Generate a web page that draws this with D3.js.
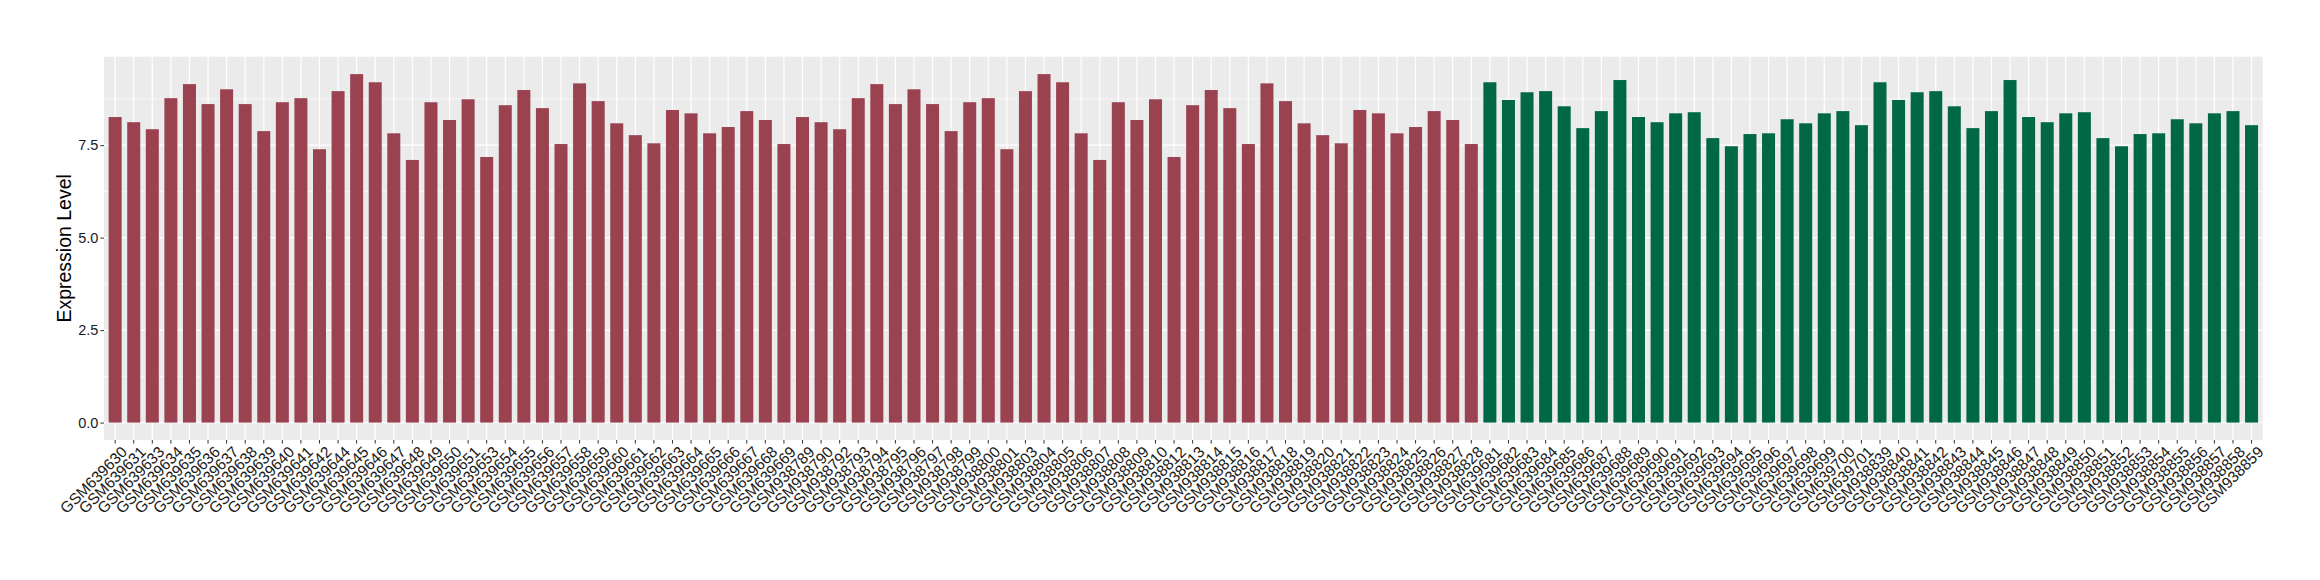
<!DOCTYPE html>
<html>
<head>
<meta charset="utf-8">
<script src="https://cdn.jsdelivr.net/npm/d3@7"></script>
<style>
  body { margin: 0; background: #fff; }
  svg { display: block; }
</style>
</head>
<body>
<div id="chart"></div>
<script>
// DATA
var samplesA639 = ["GSM639630", "GSM639631", "GSM639633", "GSM639634", "GSM639635", "GSM639636", "GSM639637", "GSM639638", "GSM639639", "GSM639640", "GSM639641", "GSM639642", "GSM639644", "GSM639645", "GSM639646", "GSM639647", "GSM639648", "GSM639649", "GSM639650", "GSM639651", "GSM639653", "GSM639654", "GSM639655", "GSM639656", "GSM639657", "GSM639658", "GSM639659", "GSM639660", "GSM639661", "GSM639662", "GSM639663", "GSM639664", "GSM639665", "GSM639666", "GSM639667", "GSM639668", "GSM639669"];
var valuesA639 = [8.26, 8.12, 7.93, 8.77, 9.15, 8.61, 9.01, 8.61, 7.88, 8.66, 8.77, 7.39, 8.96, 9.42, 9.20, 7.82, 7.10, 8.66, 8.18, 8.74, 7.18, 8.58, 8.99, 8.50, 7.53, 9.17, 8.69, 8.09, 7.77, 7.55, 8.45, 8.36, 7.82, 7.99, 8.42, 8.18, 7.53];

var samplesA938 = ["GSM938789", "GSM938790", "GSM938792", "GSM938793", "GSM938794", "GSM938795", "GSM938796", "GSM938797", "GSM938798", "GSM938799", "GSM938800", "GSM938801", "GSM938803", "GSM938804", "GSM938805", "GSM938806", "GSM938807", "GSM938808", "GSM938809", "GSM938810", "GSM938812", "GSM938813", "GSM938814", "GSM938815", "GSM938816", "GSM938817", "GSM938818", "GSM938819", "GSM938820", "GSM938821", "GSM938822", "GSM938823", "GSM938824", "GSM938825", "GSM938826", "GSM938827", "GSM938828"];
var valuesA938 = [8.26, 8.12, 7.93, 8.77, 9.15, 8.61, 9.01, 8.61, 7.88, 8.66, 8.77, 7.39, 8.96, 9.42, 9.20, 7.82, 7.10, 8.66, 8.18, 8.74, 7.18, 8.58, 8.99, 8.50, 7.53, 9.17, 8.69, 8.09, 7.77, 7.55, 8.45, 8.36, 7.82, 7.99, 8.42, 8.18, 7.53];

var samplesB639 = ["GSM639681", "GSM639682", "GSM639683", "GSM639684", "GSM639685", "GSM639686", "GSM639687", "GSM639688", "GSM639689", "GSM639690", "GSM639691", "GSM639692", "GSM639693", "GSM639694", "GSM639695", "GSM639696", "GSM639697", "GSM639698", "GSM639699", "GSM639700", "GSM639701"];
var valuesB639 = [9.20, 8.72, 8.93, 8.96, 8.55, 7.96, 8.42, 9.26, 8.26, 8.12, 8.36, 8.39, 7.69, 7.47, 7.80, 7.82, 8.20, 8.09, 8.36, 8.42, 8.04];

var samplesB938 = ["GSM938839", "GSM938840", "GSM938841", "GSM938842", "GSM938843", "GSM938844", "GSM938845", "GSM938846", "GSM938847", "GSM938848", "GSM938849", "GSM938850", "GSM938851", "GSM938852", "GSM938853", "GSM938854", "GSM938855", "GSM938856", "GSM938857", "GSM938858", "GSM938859"];
var valuesB938 = [9.20, 8.72, 8.93, 8.96, 8.55, 7.96, 8.42, 9.26, 8.26, 8.12, 8.36, 8.39, 7.69, 7.47, 7.80, 7.82, 8.20, 8.09, 8.36, 8.42, 8.04];

var yTicks = [0, 2.5, 5, 7.5];
var yMinor = [1.25, 3.75, 6.25, 8.75];
var groupColours = {A: "#9A4250", B: "#006846"};

// build rows in axis order
var data = [];
function addRows(names, vals, group) {
  names.forEach(function(n, i) { data.push({sample: n, value: vals[i], group: group}); });
}
addRows(samplesA639, valuesA639, "A");
addRows(samplesA938, valuesA938, "A");
addRows(samplesB639, valuesB639, "B");
addRows(samplesB938, valuesB938, "B");

// SVG AND D3 STUFF
var width = 2320, height = 580;
var panel = {left: 104, right: 2262.7, top: 56.7, bottom: 440};

var svg = d3.select("#chart")
  .append("svg")
  .attr("width", width)
  .attr("height", height);

var yMax = d3.max(data, function(d) { return d.value; });
var pad = yMax * 0.05;

var xScale = d3.scaleBand()
  .domain(data.map(function(d) { return d.sample; }))
  .range([panel.left, panel.right])
  .paddingInner(0.3)
  .paddingOuter(0.25);

var yScale = d3.scaleLinear()
  .domain([-pad, yMax + pad])
  .range([panel.bottom, panel.top]);

// panel background
svg.append("rect")
  .attr("x", panel.left)
  .attr("y", panel.top)
  .attr("width", panel.right - panel.left)
  .attr("height", panel.bottom - panel.top)
  .attr("fill", "#EBEBEB");

var grid = svg.append("g");
grid.selectAll("line.minor")
  .data(yMinor)
  .enter()
  .append("line")
  .attr("x1", panel.left).attr("x2", panel.right)
  .attr("y1", function(d) { return yScale(d); })
  .attr("y2", function(d) { return yScale(d); })
  .attr("stroke", "#fff")
  .attr("stroke-width", 0.6);

grid.selectAll("line.major")
  .data(yTicks)
  .enter()
  .append("line")
  .attr("x1", panel.left).attr("x2", panel.right)
  .attr("y1", function(d) { return yScale(d); })
  .attr("y2", function(d) { return yScale(d); })
  .attr("stroke", "#fff")
  .attr("stroke-width", 1.2);

grid.selectAll("line.vert")
  .data(xScale.domain())
  .enter()
  .append("line")
  .attr("x1", function(d) { return xScale(d) + xScale.bandwidth() / 2; })
  .attr("x2", function(d) { return xScale(d) + xScale.bandwidth() / 2; })
  .attr("y1", panel.top).attr("y2", panel.bottom)
  .attr("stroke", "#fff")
  .attr("stroke-width", 1.2);

// bars
svg.append("g")
  .selectAll("rect")
  .data(data)
  .enter()
  .append("rect")
  .attr("x", function(d) { return xScale(d.sample); })
  .attr("width", xScale.bandwidth())
  .attr("y", function(d) { return yScale(d.value); })
  .attr("height", function(d) { return yScale(0) - yScale(d.value); })
  .attr("fill", function(d) { return groupColours[d.group]; });

// x axis
var xAxis = svg.append("g")
  .attr("transform", "translate(0," + panel.bottom + ")")
  .call(d3.axisBottom(xScale).tickSize(3.6).tickPadding(6));
xAxis.select(".domain").remove();
xAxis.selectAll(".tick line").attr("stroke", "#333");
xAxis.selectAll(".tick text")
  .attr("font-family", "Liberation Sans, Arial, sans-serif")
  .attr("font-size", 15.5)
  .attr("fill", "#1A1A1A")
  .attr("text-anchor", "end")
  .attr("x", 0)
  .attr("y", 6)
  .attr("dy", "0.8em")
  .attr("transform", "rotate(-45)");

// y axis
var yAxis = svg.append("g")
  .attr("transform", "translate(" + panel.left + ",0)")
  .call(d3.axisLeft(yScale).tickValues(yTicks).tickFormat(d3.format(".1f")).tickSize(3.6).tickPadding(2));
yAxis.select(".domain").remove();
yAxis.selectAll(".tick line").attr("stroke", "#333");
yAxis.selectAll(".tick text")
  .attr("font-family", "Liberation Sans, Arial, sans-serif")
  .attr("font-size", 14.5)
  .attr("fill", "#1A1A1A");

// y label
svg.append("text")
  .attr("transform", "translate(71," + ((panel.top + panel.bottom) / 2) + ")rotate(-90)")
  .attr("text-anchor", "middle")
  .attr("font-family", "Liberation Sans, Arial, sans-serif")
  .attr("font-size", 19.5)
  .attr("fill", "#000")
  .text("Expression Level");
</script>
</body>
</html>
